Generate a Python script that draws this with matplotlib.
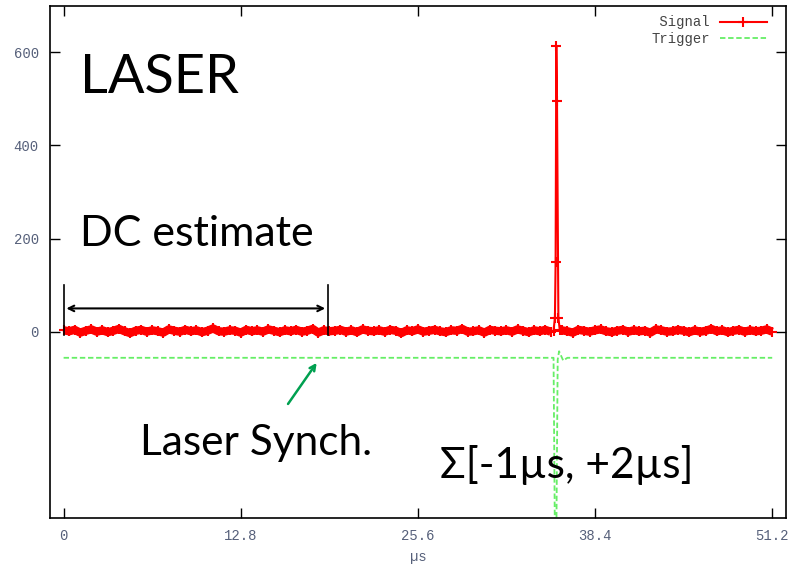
import numpy as np
import matplotlib.pyplot as plt

# baseline samples every 0.4 us
dt = 0.4
baseline = [3, 1, 4, -2, 2, 5, 0, 3, -1, 2, 6, 1, -3, 2, 4, 0, 3, 1, -2, 5,
            2, 0, 4, 1, 3, -1, 2, 7, 1, 0, 3, 2, -2, 4, 1, 3, 0, 5, 2, -1,
            3, 1, 4, 0, 2, 6, -2, 3, 1, 2, 4, 0, 3, -1, 5, 2, 1, 3, 0, 4,
            2, -3, 3, 1, 5, 0, 2, 4, 1, -1, 3, 2, 6, 0, 1, 3, -2, 4, 2, 1,
            3, 0, 5, 2, -1, 3, 1, 4, 0, 2, 3, 1, -2, 4, 2, 0, 3, 5, 1, -1,
            2, 4, 0, 3, 1, 2, -2, 5, 3, 0, 1, 4, 2, -1, 3, 0, 2, 6, 1, 3,
            -1, 2, 4, 0, 3, 1, 2, 5, 0]
spike_t = [35.4, 35.5, 35.55, 35.6, 35.65, 35.75, 35.85]
spike_v = [2, 30, 150, 613, 495, 30, 4]

trigger_t = [0, 35.4, 35.5, 35.6, 35.7, 35.8, 36.1, 36.4, 51.2]
trigger_v = [-56, -56, -450, -450, -60, -42, -62, -56, -56]

xticks = [0, 12.8, 25.6, 38.4, 51.2]
yticks = [0, 200, 400, 600]

base_t = np.arange(len(baseline)) * dt
keep = np.abs(base_t - 35.6) > 0.3
sig_t = np.concatenate([base_t[keep], spike_t])
sig_v = np.concatenate([np.array(baseline)[keep], spike_v])
order = np.argsort(sig_t)
sig_t, sig_v = sig_t[order], sig_v[order]

mono = "Liberation Mono"
tick_col = "#56607a"

fig = plt.figure(figsize=(7.9, 5.68), dpi=100)
ax = fig.add_axes([0.063, 0.088, 0.932, 0.902])

ax.plot(sig_t, sig_v, color="red", lw=1.5, marker="+", ms=7, mew=1.5,
        label=" Signal")
# dense sampling makes the baseline a solid band in the original
pre = base_t < 35.3
post = base_t > 35.9
ax.plot(base_t[pre], np.array(baseline)[pre], color="red", lw=6,
        solid_capstyle="butt")
ax.plot(base_t[post], np.array(baseline)[post], color="red", lw=6,
        solid_capstyle="butt")
ax.plot(trigger_t, trigger_v, color="#66ee66", lw=1.3, dashes=(3, 1.5),
        label="Trigger")

ax.set_xlim(-1, 52.2)
ax.set_ylim(-400, 700)
ax.set_xticks(xticks)
ax.set_xticklabels(["0", "12.8", "25.6", "38.4", "51.2"])
ax.set_yticks(yticks)
ax.tick_params(direction="in", length=7, width=1, top=True, right=True,
               labelsize=10, labelcolor=tick_col, pad=8)
for lab in ax.get_xticklabels() + ax.get_yticklabels():
    lab.set_family(mono)
for s in ax.spines.values():
    s.set_linewidth(1.2)
ax.set_xlabel("µs", family=mono, fontsize=10, color=tick_col, labelpad=5)

leg = ax.legend(loc="upper right", bbox_to_anchor=(0.987, 1.0),
                frameon=False, markerfirst=False,
                prop={"family": mono, "size": 10},
                handlelength=3.4, labelspacing=0.2, borderaxespad=0.3,
                handletextpad=0.7)
for t in leg.get_texts():
    t.set_color("#444444")

big = ["Lato", "Open Sans", "DejaVu Sans"]
ax.text(1.2, 546, "LASER", family=big, fontsize=39, va="center", ha="left")
ax.text(1.2, 209, "DC estimate", family=big, fontsize=31, va="center", ha="left")
ax.text(5.5, -239, "Laser Synch.", family=big, fontsize=30.5, va="center", ha="left")
ax.text(27.2, -286, "Σ[-1µs, +2µs]", family=big, fontsize=30.5, va="center", ha="left")

# DC estimate window
ax.annotate("", xy=(0, 50), xytext=(19.1, 50),
            arrowprops=dict(arrowstyle="<->", color="black", lw=1.5))
ax.plot([0, 0], [-6, 101], color="black", lw=1.2)
ax.plot([19.1, 19.1], [-6, 101], color="black", lw=1.2)

ax.annotate("", xy=(18.4, -62), xytext=(16.1, -160),
            arrowprops=dict(arrowstyle="->", color="#00a050", lw=1.8))

fig.savefig("out.png", dpi=100)
